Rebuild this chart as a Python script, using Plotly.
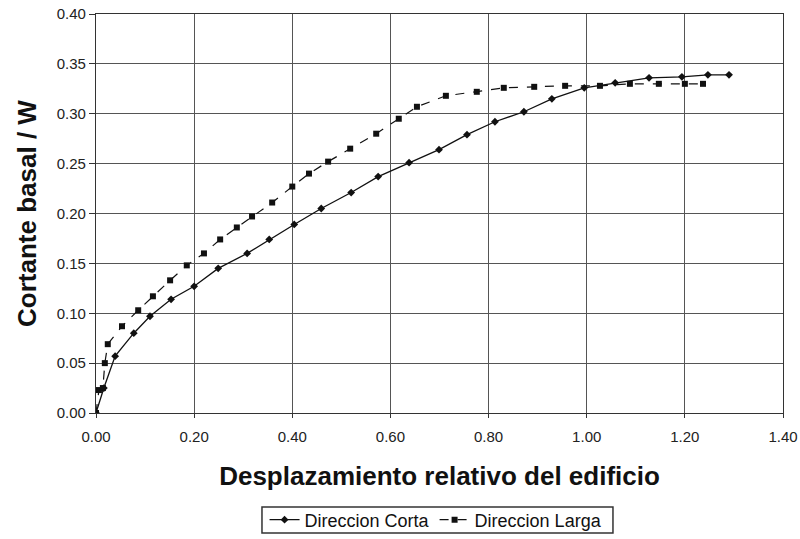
import plotly.graph_objects as go

corta_x = [0.0, 0.016, 0.039, 0.077, 0.11, 0.153, 0.20, 0.249, 0.308, 0.353, 0.404, 0.459,
           0.52, 0.575, 0.638, 0.699, 0.756, 0.813, 0.872, 0.929, 0.995, 1.058, 1.127,
           1.194, 1.247, 1.29]
corta_y = [0.0, 0.025, 0.057, 0.080, 0.097, 0.114, 0.127, 0.145, 0.160, 0.174, 0.189, 0.205,
           0.221, 0.237, 0.251, 0.264, 0.279, 0.292, 0.302, 0.315, 0.326, 0.331, 0.336,
           0.337, 0.339, 0.339]

larga_x = [0.0, 0.006, 0.014, 0.018, 0.024, 0.053, 0.086, 0.116, 0.151, 0.185, 0.220, 0.253,
           0.287, 0.318, 0.359, 0.40, 0.434, 0.473, 0.518, 0.571, 0.617, 0.654, 0.713,
           0.776, 0.831, 0.893, 0.956, 1.027, 1.088, 1.147, 1.20, 1.237]
larga_y = [0.0, 0.023, 0.025, 0.050, 0.069, 0.087, 0.103, 0.117, 0.133, 0.148, 0.160, 0.174,
           0.186, 0.197, 0.211, 0.227, 0.240, 0.252, 0.265, 0.280, 0.295, 0.307, 0.318,
           0.322, 0.326, 0.327, 0.328, 0.328, 0.330, 0.330, 0.330, 0.330]

x_ticks = [0.0, 0.2, 0.4, 0.6, 0.8, 1.0, 1.2, 1.4]
y_ticks = [0.0, 0.05, 0.10, 0.15, 0.20, 0.25, 0.30, 0.35, 0.40]

fig = go.Figure()
fig.add_trace(go.Scatter(
    x=corta_x, y=corta_y, mode="lines+markers", name="Direccion Corta",
    line=dict(color="#111", width=1.3),
    marker=dict(symbol="diamond", size=6, color="#111"),
))
fig.add_trace(go.Scatter(
    x=larga_x, y=larga_y, mode="lines+markers", name="Direccion Larga",
    line=dict(color="#111", width=1.2, dash="dash"),
    marker=dict(symbol="square", size=6, color="#111"),
))

# legend frame (drawn as a shape so its height can match the reference)
fig.add_shape(type="rect", xref="paper", yref="paper",
              x0=0.2416, x1=0.7525, y0=-0.3008, y1=-0.2356,
              line=dict(color="#333", width=1.5), fillcolor="rgba(0,0,0,0)")

fig.update_layout(
    width=800, height=539,
    margin=dict(l=96, r=17, t=14, b=126, autoexpand=False),
    paper_bgcolor="white", plot_bgcolor="white",
    font=dict(family="Liberation Sans, Arial", color="#222"),
    showlegend=True,
    legend=dict(
        orientation="h", x=0.495, xanchor="center", y=-0.268, yanchor="middle",
        bgcolor="rgba(0,0,0,0)", borderwidth=0,
        font=dict(size=18, color="#111", family="Liberation Sans, Arial"),
        itemwidth=30, tracegroupgap=0,
    ),
    xaxis=dict(
        range=[0, 1.4], tickvals=x_ticks, tickformat=".2f",
        showgrid=True, gridcolor="#555", gridwidth=1,
        showline=True, linecolor="#333", linewidth=1.2, mirror=True,
        ticks="outside", ticklen=4, tickcolor="#333",
        tickfont=dict(size=15, color="#222"), ticklabelstandoff=6,
        zeroline=False, automargin=False,
        title=dict(text="<b>Desplazamiento relativo del edificio</b>",
                   font=dict(size=26, color="#111"), standoff=22),
    ),
    yaxis=dict(
        range=[0, 0.4], tickvals=y_ticks, tickformat=".2f",
        showgrid=True, gridcolor="#555", gridwidth=1,
        showline=True, linecolor="#333", linewidth=1.2, mirror=True,
        ticks="outside", ticklen=6, tickcolor="#333",
        tickfont=dict(size=15, color="#222"),
        zeroline=False, automargin=False,
        title=dict(text="<b>Cortante basal / W</b>",
                   font=dict(size=26, color="#111"), standoff=12),
    ),
)

fig.write_html("out.html")
